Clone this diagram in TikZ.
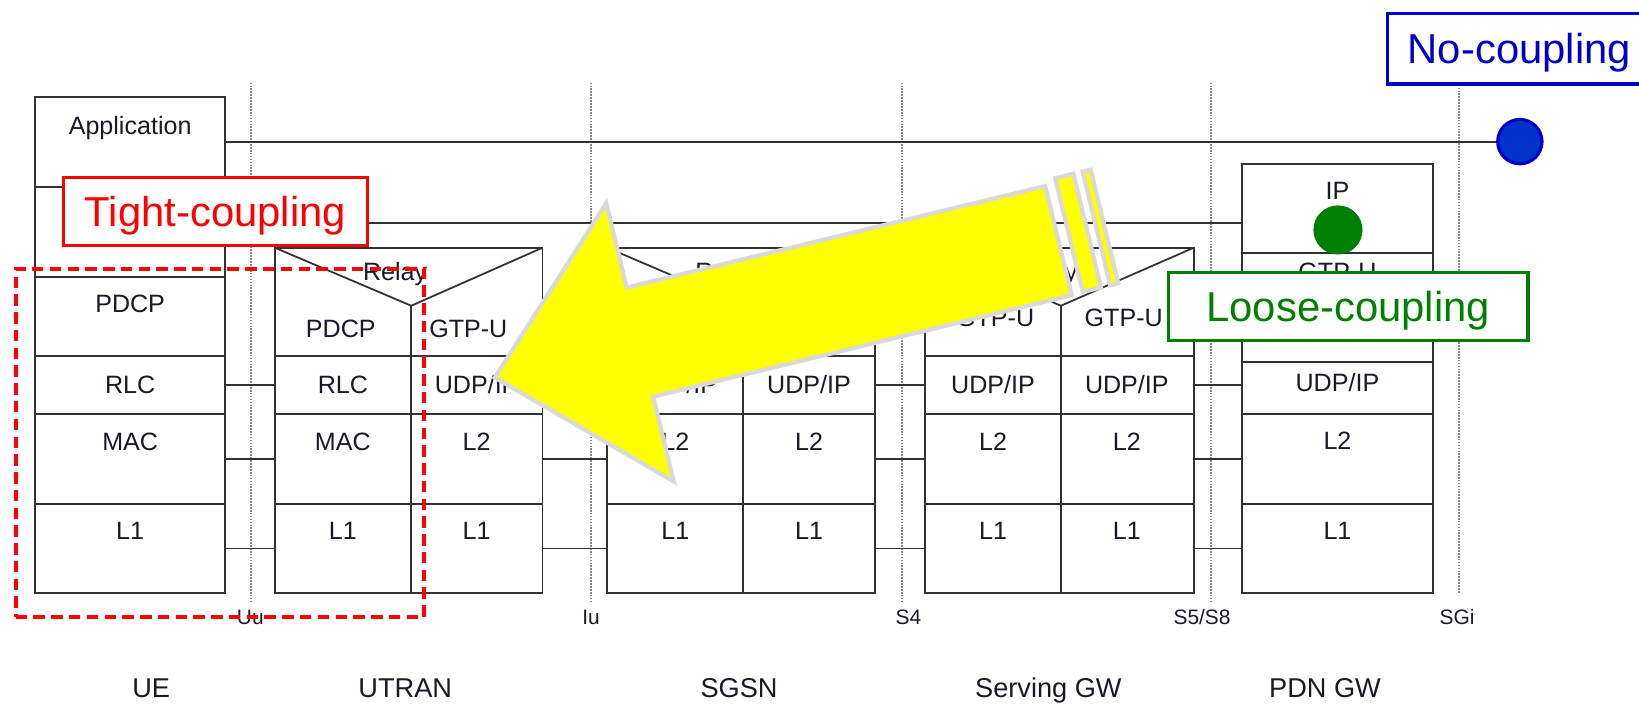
\documentclass[tikz,border=0pt]{standalone}
\usepackage{fontspec}
\setmainfont{Liberation Sans}
\definecolor{linec}{RGB}{50,50,50}
\definecolor{txtc}{RGB}{25,25,40}
\definecolor{dotc}{RGB}{135,135,135}
\definecolor{arrowfill}{RGB}{255,255,0}
\definecolor{arrowedge}{RGB}{217,217,217}
\definecolor{tightc}{RGB}{255,0,0}
\definecolor{loosec}{RGB}{0,128,0}
\definecolor{nocc}{RGB}{0,0,204}
\definecolor{nocfill}{RGB}{0,51,204}
\tikzset{
  lay/.style={draw=linec, line width=1.7pt, rectangle, inner sep=0pt, outer sep=0pt, anchor=north west},
  ltxt/.style={font=\fontsize{24}{28}\selectfont, text=txtc, anchor=base, inner sep=0pt},
  iftxt/.style={font=\fontsize{20}{24}\selectfont, text=txtc, anchor=base, inner sep=0pt},
  enttxt/.style={font=\fontsize{26}{30}\selectfont, text=txtc, anchor=base, inner sep=0pt},
  peer/.style={draw=linec, line width=1.7pt},
  refline/.style={draw=dotc, line width=1.8pt, dash pattern=on 1.6pt off 1.2pt},
  coupbox/.style={rectangle, fill=white, line width=3pt, inner sep=0pt, anchor=north west,
    font=\fontsize{40}{44}\selectfont, text height=28.6pt, text depth=0pt},
  bigarrow/.style={fill=arrowfill, draw=arrowedge, line width=4pt, line join=miter},
}
\newcommand\Lay[5]{\node[lay, minimum width={#4-#2}, minimum height={#5-#3}] (#1) at (#2,#3) {};}
\newcommand\Txt[5][ltxt]{\node[#1] (#2) at (#3,#4) {#5};}
\begin{document}
\begin{tikzpicture}[x=1pt,y=-1pt]
\useasboundingbox (0,0) rectangle (1568,673.5);
% reference points (interfaces)
\coordinate (uuT) at (240.2,79);   \coordinate (uuB) at (240.2,577);
\coordinate (iuT) at (565.6,79);   \coordinate (iuB) at (565.6,577);
\coordinate (s4T) at (862.6,79);   \coordinate (s4B) at (862.6,577);
\coordinate (s5T) at (1158.6,79);  \coordinate (s5B) at (1158.6,577);
\coordinate (sgiT) at (1396,81);   \coordinate (sgiB) at (1396,567.5);
\draw[refline] (uuT) -- (uuB);
\draw[refline] (iuT) -- (iuB);
\draw[refline] (s4T) -- (s4B);
\draw[refline] (s5T) -- (s5B);
\draw[refline] (sgiT) -- (sgiB);
\Txt[iftxt]{uuL}{239.5}{597.2}{Uu}
\Txt[iftxt]{iuL}{565.5}{597.2}{Iu}
\Txt[iftxt]{s4L}{869}{597.2}{S4}
\Txt[iftxt]{s5L}{1150}{597.2}{S5/S8}
\Txt[iftxt]{sgiL}{1394}{597.2}{SGi}
% entity names
\Txt[enttxt]{ueN}{144.7}{667.3}{UE}
\Txt[enttxt]{utN}{387.7}{667.3}{UTRAN}
\Txt[enttxt]{sgN}{707}{667.3}{SGSN}
\Txt[enttxt]{swN}{1003}{667.3}{Serving GW}
\Txt[enttxt]{pdN}{1267.6}{667.3}{PDN GW}
% UE
\Lay{ueApp}{33.3}{93}{215.6}{179}
\Lay{ueIP}{33.3}{179}{215.6}{265}
\Lay{uePDCP}{33.3}{265}{215.6}{340.5}
\Lay{ueRLC}{33.3}{340.5}{215.6}{396}
\Lay{ueMAC}{33.3}{396}{215.6}{482}
\Lay{ueL1}{33.3}{482}{215.6}{567.5}
\Txt{ueAppT}{124.5}{128.6}{Application}
\Txt{uePDCPT}{124.5}{298.6}{PDCP}
\Txt{ueRLCT}{124.5}{376.5}{RLC}
\Txt{ueMACT}{124.5}{430.6}{MAC}
\Txt{ueL1T}{124.5}{516.6}{L1}
% UTRAN
\Lay{utRelay}{263}{237}{519}{340.5}
\Lay{utRLC}{263}{340.5}{393.4}{396}
\Lay{utUDP}{393.4}{340.5}{519}{396}
\Lay{utMAC}{263}{396}{393.4}{482}
\Lay{utL2}{393.4}{396}{519}{482}
\Lay{utL1a}{263}{482}{393.4}{567.5}
\Lay{utL1b}{393.4}{482}{519}{567.5}
\coordinate (utApex) at (393.4,292.5);
\draw[peer] (utRelay.north west) -- (utApex) -- (utRelay.north east);
\draw[peer] (utApex) -- (utRelay.south -| utApex);
\Txt{utRelayT}{378}{268.5}{Relay}
\Txt{utPDCPT}{326}{322.5}{PDCP}
\Txt{utGTPT}{448}{322.5}{GTP-U}
\Txt{utRLCT}{328}{376.5}{RLC}
\Txt{utUDPT}{456}{376.5}{UDP/IP}
\Txt{utMACT}{328}{430.6}{MAC}
\Txt{utL2T}{456}{430.6}{L2}
\Txt{utL1aT}{328}{516.6}{L1}
\Txt{utL1bT}{456}{516.6}{L1}
% SGSN
\Lay{sgRelay}{581}{237}{837}{340.5}
\Lay{sgUDPa}{581}{340.5}{711}{396}
\Lay{sgUDPb}{711}{340.5}{837}{396}
\Lay{sgL2a}{581}{396}{711}{482}
\Lay{sgL2b}{711}{396}{837}{482}
\Lay{sgL1a}{581}{482}{711}{567.5}
\Lay{sgL1b}{711}{482}{837}{567.5}
\coordinate (sgApex) at (711,292.5);
\draw[peer] (sgRelay.north west) -- (sgApex) -- (sgRelay.north east);
\draw[peer] (sgApex) -- (sgRelay.south -| sgApex);
\Txt{sgRelayT}{696}{268.5}{Relay}
\Txt{sgGTPaT}{646}{312}{GTP-U}
\Txt{sgGTPbT}{774}{312}{GTP-U}
\Txt{sgUDPaT}{646}{376.5}{UDP/IP}
\Txt{sgUDPbT}{774}{376.5}{UDP/IP}
\Txt{sgL2aT}{646}{430.6}{L2}
\Txt{sgL2bT}{774}{430.6}{L2}
\Txt{sgL1aT}{646}{516.6}{L1}
\Txt{sgL1bT}{774}{516.6}{L1}
% Serving GW
\Lay{swRelay}{885}{237}{1142}{340.5}
\Lay{swUDPa}{885}{340.5}{1015}{396}
\Lay{swUDPb}{1015}{340.5}{1142}{396}
\Lay{swL2a}{885}{396}{1015}{482}
\Lay{swL2b}{1015}{396}{1142}{482}
\Lay{swL1a}{885}{482}{1015}{567.5}
\Lay{swL1b}{1015}{482}{1142}{567.5}
\coordinate (swApex) at (1015,292.5);
\draw[peer] (swRelay.north west) -- (swApex) -- (swRelay.north east);
\draw[peer] (swApex) -- (swRelay.south -| swApex);
\Txt{swRelayT}{1000}{268.5}{Relay}
\Txt{swGTPaT}{952}{312}{GTP-U}
\Txt{swGTPbT}{1075}{312}{GTP-U}
\Txt{swUDPaT}{950}{376.5}{UDP/IP}
\Txt{swUDPbT}{1078}{376.5}{UDP/IP}
\Txt{swL2aT}{950}{430.6}{L2}
\Txt{swL2bT}{1078}{430.6}{L2}
\Txt{swL1aT}{950}{516.6}{L1}
\Txt{swL1bT}{1078}{516.6}{L1}
% PDN GW
\Lay{pdIP}{1188}{157}{1371}{242.4}
\Lay{pdGTP}{1188}{242.4}{1371}{346}
\Lay{pdUDP}{1188}{346}{1371}{396}
\Lay{pdL2}{1188}{396}{1371}{482}
\Lay{pdL1}{1188}{482}{1371}{567.5}
\Txt{pdIPT}{1279.5}{190.6}{IP}
\Txt{pdGTPT}{1279.5}{268}{GTP-U}
\Txt{pdUDPT}{1279.5}{375}{UDP/IP}
\Txt{pdL2T}{1279.5}{429.6}{L2}
\Txt{pdL1T}{1279.5}{516.6}{L1}
% peer connections
\draw[peer] (ueRLC.east) -- (utRLC.west);
\draw[peer] (ueMAC.east) -- (utMAC.west);
\draw[peer] (ueL1.east) -- (utL1a.west);
\draw[peer] (utUDP.east) -- (sgUDPa.west);
\draw[peer] (utL2.east) -- (sgL2a.west);
\draw[peer] (utL1b.east) -- (sgL1a.west);
\draw[peer] (sgUDPb.east) -- (swUDPa.west);
\draw[peer] (sgL2b.east) -- (swL2a.west);
\draw[peer] (sgL1b.east) -- (swL1a.west);
\draw[peer] (swUDPb.east) -- (swUDPb.east -| pdUDP.west);
\draw[peer] (swL2b.east) -- (pdL2.west);
\draw[peer] (swL1b.east) -- (pdL1.west);
% end-to-end lines
\node[circle, fill=nocfill, draw=nocc, line width=3pt, minimum size=42.4pt, inner sep=0pt] (nocDot) at (1454,135.5) {};
\draw[peer] (ueApp.east) -- (ueApp.east -| nocDot.west);
\coordinate (ueIPr) at (215.6,213.3);
\draw[peer] (ueIPr) -- (ueIPr -| pdIP.west);
\node[circle, fill=loosec, minimum size=47pt, inner sep=0pt] (looseDot) at (1280,220) {};
% big striped arrow
\begin{scope}[shift={(470.4,361.9)}, rotate=13.63]
\draw[bigarrow] (3,0) -- (146,-137) -- (146,-54) -- (558,-54)
  -- (558,53.5) -- (146,53.5) -- (146,137) -- cycle;
\draw[bigarrow] (569,-59) rectangle (587,53);
\draw[bigarrow] (596,-59) rectangle (604,53);
\end{scope}
% coupling labels
\node[coupbox, draw=tightc, text=tightc, minimum width=291.3pt, minimum height=65pt] (tight) at (59,168) {Tight-coupling};
\node[coupbox, draw=loosec, text=loosec, minimum width=344pt, minimum height=65.3pt] (loose) at (1116.3,259.2) {Loose-coupling};
\node[coupbox, draw=nocc, text=nocc, minimum width=253pt, minimum height=67.6pt] (nocoup) at (1325.5,11.2) {No-coupling};
% tight-coupling region
\node[draw=tightc, line width=3.6pt, dash pattern=on 11pt off 6pt, rectangle, inner sep=0pt,
  anchor=north west, minimum width=390.8pt, minimum height=333pt] (tightRegion) at (13.2,255.4) {};
\end{tikzpicture}
\end{document}
